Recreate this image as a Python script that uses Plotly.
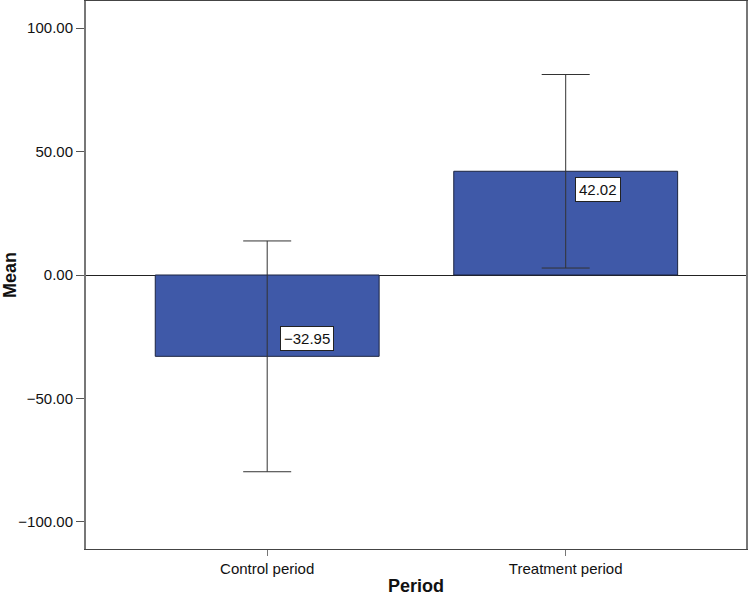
import plotly.graph_objects as go

categories = ["Control period", "Treatment period"]
means = [-32.95, 42.02]
err = [46.75, 39.2]
labels = ["\u221232.95", "42.02"]
ytick_vals = [-100, -50, 0, 50, 100]
ytick_text = ["\u2212100.00", "\u221250.00", "0.00", "50.00", "100.00"]

FONT = "Arial, Liberation Sans, sans-serif"

fig = go.Figure()
fig.add_trace(go.Bar(
    x=[0, 1], y=means, width=0.75,
    marker=dict(color="#3F59A8", line=dict(color="#1c2540", width=1)),
    error_y=dict(type="data", array=err, visible=True, color="#333333", thickness=1, width=24),
    hoverinfo="skip",
))

for i, (m, lab) in enumerate(zip(means, labels)):
    fig.add_annotation(
        x=i, y=m, xref="x", yref="y", text=lab, showarrow=False,
        xanchor="left", yanchor="middle", xshift=13 if i == 0 else 9,
        yshift=18 if m < 0 else -18,
        bgcolor="white", bordercolor="#222222", borderwidth=1, borderpad=3,
        font=dict(family=FONT, size=15, color="#111111"),
    )

fig.add_annotation(x=0.5, y=0, xref="paper", yref="paper", yanchor="middle", yshift=-37,
                   text="<b>Period</b>", showarrow=False,
                   font=dict(family=FONT, size=18, color="#111111"))
fig.add_annotation(x=0, y=0.5, xref="paper", yref="paper", xshift=-76,
                   text="<b>Mean</b>", showarrow=False, textangle=-90, xanchor="center",
                   font=dict(family=FONT, size=18, color="#111111"))

fig.update_layout(
    width=748, height=600,
    margin=dict(l=86, r=2, t=1, b=51, autoexpand=False),
    plot_bgcolor="white", paper_bgcolor="white",
    showlegend=False,
    font=dict(family=FONT, color="#111111"),
    xaxis=dict(
        range=[-0.607, 1.604], tickvals=[0, 1], ticktext=categories,
        ticks="outside", ticklen=6, tickcolor="#777777",
        showline=True, linecolor="#444444", linewidth=1, mirror=True,
        showgrid=False, zeroline=False, automargin=False,
        tickfont=dict(family=FONT, size=15, color="#111111"),
    ),
    yaxis=dict(
        range=[-111, 111], tickvals=ytick_vals, ticktext=ytick_text,
        ticks="outside", ticklen=8, tickcolor="#555555",
        showline=True, linecolor="#777777", linewidth=2, mirror=True,
        showgrid=False, zeroline=True, zerolinecolor="#222222", zerolinewidth=1,
        automargin=False,
        tickfont=dict(family=FONT, size=15, color="#111111"),
    ),
)

fig.write_html("out.html", config={"displayModeBar": False},
               post_script="document.body.style.margin='0px';")
